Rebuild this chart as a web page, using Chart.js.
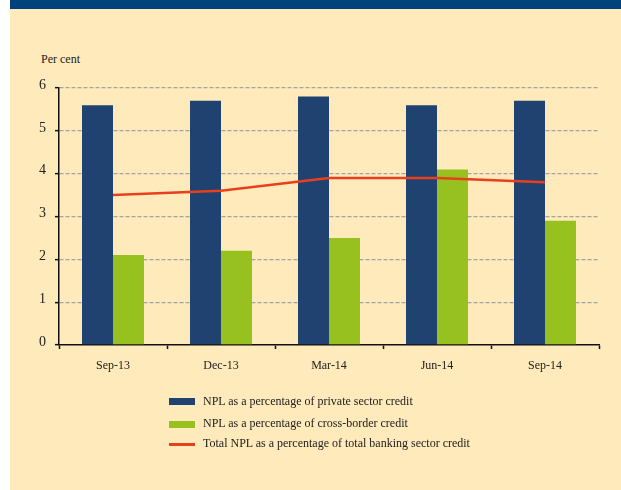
<!DOCTYPE html>
<html>
<head>
<meta charset="utf-8">
<script src="https://cdn.jsdelivr.net/npm/chart.js@4/dist/chart.umd.min.js"></script>
<style>
  body { margin: 0; background: #fff; }
  #panel { position: absolute; left: 10px; top: 0; width: 611px; height: 490px; background: #FEEABA; }
  #band { position: absolute; left: 10px; top: 0; width: 611px; height: 9px; background: #00427B; }
  #wrap { position: absolute; left: 0; top: 0; width: 621px; height: 490px; }
  .txt { position: absolute; font-family: "Liberation Serif", "DejaVu Serif", serif; color: #222; font-size: 12px; white-space: nowrap; }
  .sw { position: absolute; left: 169px; width: 26px; }
</style>
</head>
<body>
<div id="panel"></div>
<div id="band"></div>
<div class="txt" style="left:41px; top:52px;">Per cent</div>
<div id="wrap"><canvas id="npl" width="621" height="490"></canvas></div>

<div class="sw" style="top:398px; height:7px; background:#1F4270;"></div>
<div class="txt" style="left:203px; top:394px;" id="lg0"></div>
<div class="sw" style="top:421px; height:7px; background:#97C11F;"></div>
<div class="txt" style="left:203px; top:416px;" id="lg1"></div>
<div class="sw" style="top:443px; height:3px; background:#E8401C;"></div>
<div class="txt" style="left:203px; top:436px;" id="lg2"></div>

<script>
// DATA
const quarters = ["Sep-13", "Dec-13", "Mar-14", "Jun-14", "Sep-14"];
const privateNpl = [5.6, 5.7, 5.8, 5.6, 5.7];
const crossBorderNpl = [2.1, 2.2, 2.5, 4.1, 2.9];
const totalNpl = [3.5, 3.6, 3.9, 3.9, 3.8];
const seriesNames = [
    "NPL as a percentage of private sector credit",
    "NPL as a percentage of cross-border credit",
    "Total NPL as a percentage of total banking sector credit"
];
const yTicks = [0, 1, 2, 3, 4, 5, 6];

seriesNames.forEach(function (n, i) {
    document.getElementById("lg" + i).innerText = n;
});

const serif = "'Liberation Serif', 'DejaVu Serif', serif";

new Chart(document.getElementById("npl").getContext("2d"), {
    data: {
        labels: quarters,
        datasets: [
            {
                type: "line",
                label: seriesNames[2],
                data: totalNpl,
                borderColor: "#E8401C",
                borderWidth: 2.5,
                pointRadius: 0,
                tension: 0,
                order: 0
            },
            {
                type: "bar",
                label: seriesNames[0],
                data: privateNpl,
                backgroundColor: "#1F4270",
                categoryPercentage: 0.574,
                barPercentage: 1,
                order: 1
            },
            {
                type: "bar",
                label: seriesNames[1],
                data: crossBorderNpl,
                backgroundColor: "#97C11F",
                categoryPercentage: 0.574,
                barPercentage: 1,
                order: 1
            }
        ]
    },
    options: {
        responsive: false,
        animation: false,
        layout: { padding: { left: 0, right: 22, top: 88, bottom: 105 } },
        plugins: { legend: { display: false }, tooltip: { enabled: false } },
        scales: {
            x: {
                offset: true,
                grid: { offset: true, drawOnChartArea: false, tickLength: 4, tickColor: "#111", tickWidth: 1.5 },
                border: { color: "#111", width: 1.5 },
                ticks: { font: { family: serif, size: 12 }, color: "#222", padding: 10 },
                afterFit: function (s) { s.height = 40; }
            },
            y: {
                min: 0,
                max: 6,
                afterBuildTicks: function (s) { s.ticks = yTicks.map(function (v) { return { value: v }; }); },
                grid: {
                    color: function (c) { return c.tick && c.tick.value === 0 ? "rgba(0,0,0,0)" : "#A3A3A3"; },
                    lineWidth: 1.3,
                    tickLength: 4,
                    tickColor: "#111",
                    tickWidth: 1.5
                },
                border: { color: "#111", width: 1.5, dash: [4, 2] },
                ticks: { font: { family: serif, size: 14 }, color: "#222", padding: 9, labelOffset: -3 },
                afterFit: function (s) { s.width = 59; }
            }
        }
    }
});
</script>
</body>
</html>
